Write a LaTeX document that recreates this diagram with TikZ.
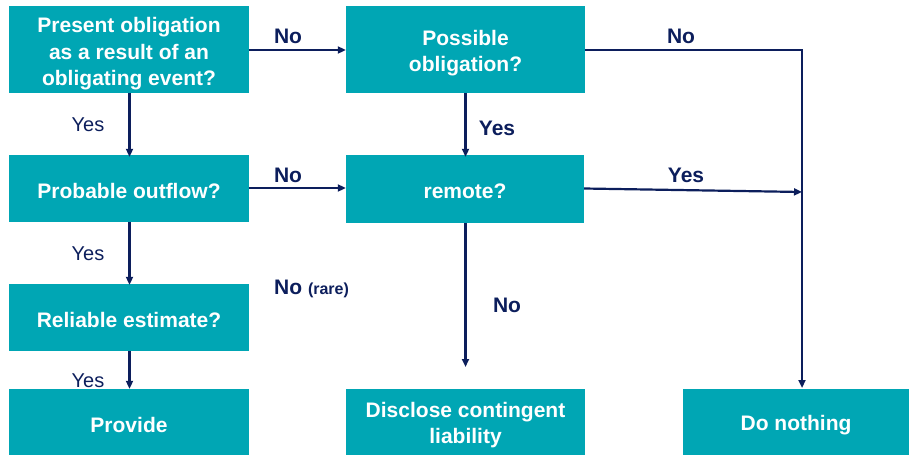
\documentclass[tikz,border=0pt]{standalone}
\usepackage{fontspec}
\setmainfont{Liberation Sans}
\usetikzlibrary{arrows.meta}
\definecolor{boxteal}{RGB}{0,166,180}
\definecolor{navy}{RGB}{12,30,92}
\begin{document}
\begin{tikzpicture}[x=1pt,y=-1pt,
  flowbox/.style={fill=boxteal, draw=none, inner sep=0pt},
  boxtext/.style={text=white, font=\fontsize{21}{26.5}\selectfont\bfseries, align=center, inner sep=0pt},
  conn/.style={draw=navy, line width=2.2pt, -{Triangle[length=8pt,width=7pt]}},
  plainline/.style={draw=navy, line width=2.2pt},
  lblb/.style={text=navy, font=\fontsize{21}{24}\selectfont\bfseries, inner sep=0pt},
  lbln/.style={text=navy, font=\fontsize{20}{24}\selectfont, inner sep=0pt}]
\useasboundingbox (0,0) rectangle (909,455);
\node[flowbox, minimum width=240pt, minimum height=87pt] (A) at (129,49.5) {};
\node[flowbox, minimum width=239pt, minimum height=87pt] (B) at (465.5,49.5) {};
\node[flowbox, minimum width=240pt, minimum height=67pt] (C) at (129,188.5) {};
\node[flowbox, minimum width=238pt, minimum height=68pt] (D) at (465,189) {};
\node[flowbox, minimum width=240pt, minimum height=67pt] (E) at (129,317.5) {};
\node[flowbox, minimum width=240pt, minimum height=66pt] (F) at (129,422) {};
\node[flowbox, minimum width=239pt, minimum height=66pt] (G) at (465.5,422) {};
\node[flowbox, minimum width=226pt, minimum height=66pt] (H) at (796,422) {};
\node[boxtext] (At) at (129,54) {Present obligation\\as a result of an\\obligating event?};
\node[boxtext] (Bt) at (465.5,53) {Possible\\obligation?};
\node[boxtext] (Ct) at (129,191) {Probable outflow?};
\node[boxtext] (Dt) at (465,191) {remote?};
\node[boxtext] (Et) at (129,320) {Reliable estimate?};
\node[boxtext] (Ft) at (129,425) {Provide};
\node[boxtext] (Gt) at (465.5,425) {Disclose contingent\\liability};
\node[boxtext] (Ht) at (796,425) {Do nothing};
\coordinate (j1) at (802,50);
\coordinate (j2) at (802,192);
\coordinate (j3) at (802,388);
\coordinate (dend) at (465.5,367);
% connectors
\draw[conn] (A.east |- 0,50) -- (B.west |- 0,50);
\draw[plainline] (B.east |- 0,50) -- (j1) -- (j2);
\draw[conn] (j2) -- (j3);
\draw[conn] (D.east |- 0,188.5) -- (j2);
\draw[conn] ([xshift=0.5pt]A.south) -- ([xshift=0.5pt,yshift=-2pt]C.north);
\draw[conn] (B.south) -- ([yshift=-2pt]B.south |- D.north);
\draw[conn] (C.east |- 0,188) -- (D.west |- 0,188);
\draw[conn] ([xshift=0.5pt]C.south) -- ([xshift=0.5pt,yshift=-1pt]E.north);
\draw[conn] ([xshift=0.5pt]E.south) -- ([xshift=0.5pt]F.north);
\draw[conn] (B.south |- D.south) -- (dend);
% labels
\node[lblb] (l1) at (288,36) {No};
\node[lblb] (l2) at (681,36) {No};
\node[lblb] (l3) at (288,175) {No};
\node[lblb] (l4) at (686,175) {Yes};
\node[lblb] (l5) at (497,128) {Yes};
\node[lblb] (l6) at (507,305) {No};
\node[lblb, anchor=west] (l7) at (274,289) {No {\fontsize{16}{18}\selectfont(rare)}};
\node[lbln] (l8) at (88,125) {Yes};
\node[lbln] (l9) at (88,254) {Yes};
\node[lbln] (l10) at (88,381) {Yes};
\end{tikzpicture}
\end{document}
